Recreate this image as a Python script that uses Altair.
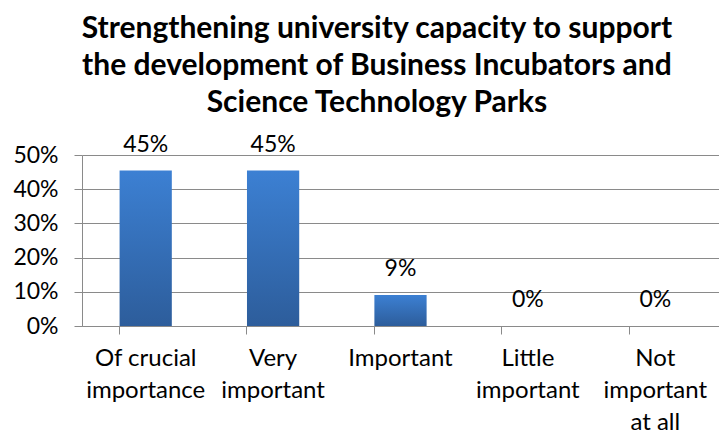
import altair as alt
import pandas as pd

categories = ["Of crucial\nimportance", "Very\nimportant", "Important", "Little\nimportant", "Not\nimportant\nat all"]
values = [0.4545, 0.4545, 0.0909, 0.0, 0.0]
labels = ["45%", "45%", "9%", "0%", "0%"]
y_ticks = [0, 0.1, 0.2, 0.3, 0.4, 0.5]
title_lines = [
    "Strengthening university capacity to support",
    "the development of Business Incubators and",
    "Science Technology Parks",
]

df = pd.DataFrame({"cat": categories, "value": values, "label": labels})

FONT = "Lato"
GRAY = "#8a8a8a"

x_enc = alt.X(
    "cat:N",
    sort=None,
    title=None,
    scale=alt.Scale(paddingInner=0.59, paddingOuter=0.295),
    axis=alt.Axis(
        labelAngle=0,
        labelExpr="split(datum.label, '\\n')",
        labelFont=FONT,
        labelFontSize=24,
        labelColor="#000000",
        labelLineHeight=32,
        labelPadding=12,
        labelBaseline="top",
        bandPosition=0,
        tickSize=8,
        tickColor=GRAY,
        domainColor=GRAY,
        grid=False,
    ),
)
y_enc = alt.Y(
    "value:Q",
    title=None,
    scale=alt.Scale(domain=[0, 0.5], nice=False),
    axis=alt.Axis(
        values=y_ticks,
        format=".0%",
        labelFont=FONT,
        labelFontSize=23,
        labelColor="#000000",
        labelPadding=16,
        labelOverlap=False,
        tickSize=8,
        tickColor=GRAY,
        domainColor=GRAY,
        gridColor=GRAY,
        gridWidth=1,
    ),
)

bars = alt.Chart(df).mark_bar(
    color=alt.Gradient(
        gradient="linear",
        stops=[
            alt.GradientStop(color="#3c80d3", offset=0),
            alt.GradientStop(color="#2d5d9b", offset=1),
        ],
        x1=1, x2=1, y1=0, y2=1,
    )
).encode(x=x_enc, y=y_enc)

text = alt.Chart(df).mark_text(
    dy=-19, baseline="alphabetic", font=FONT, fontSize=23, color="#000000"
).encode(x=x_enc, y=y_enc, text="label:N")

chart = alt.layer(bars, text).properties(
    width=637,
    height=171,
    padding={"left": 4, "top": 5, "right": 0, "bottom": 0},
    title=alt.TitleParams(
        text=title_lines,
        font=FONT,
        fontSize=30,
        fontWeight="bold",
        color="#000000",
        lineHeight=37,
        anchor="middle",
        frame="bounds",
        offset=16,
        dx=11,
    ),
).configure_view(stroke=None)

chart.save("out.html", embed_options={"renderer": "svg", "actions": False})
